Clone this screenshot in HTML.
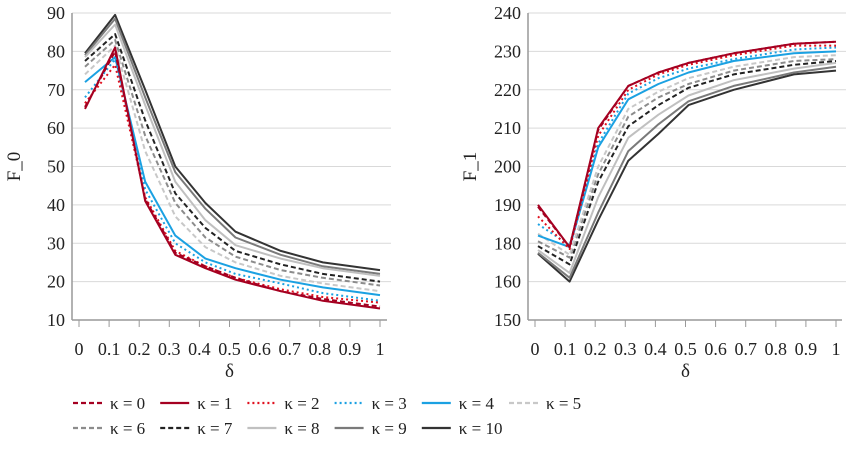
<!DOCTYPE html>
<html><head><meta charset="utf-8"><style>
body{margin:0;background:#fff;width:850px;height:449px;overflow:hidden}
svg text{font-family:"Liberation Serif",serif;fill:#222}
</style></head><body>
<svg id="chart" width="850" height="449" viewBox="0 0 850 449"></svg>
<script>
const xTickLabels=["0","0.1","0.2","0.3","0.4","0.5","0.6","0.7","0.8","0.9","1"];
const seriesNames=["κ = 0","κ = 1","κ = 2","κ = 3","κ = 4","κ = 5","κ = 6","κ = 7","κ = 8","κ = 9","κ = 10"];
const leftX=[0.02,0.12,0.22,0.32,0.42,0.52,0.67,0.81,1];
const leftK0=[65.5,80,41.5,27.5,24,21,17.5,15.5,13.5];
const leftK1=[65,81,41,27,23.5,20.5,17.5,15,13];
const leftK2=[66.5,76.5,42,28,24,21,18,16,14.5];
const leftK3=[68,78,44,30,25,22,19.5,17,15];
const leftK4=[72,78.5,46,32,26,23.5,20.5,18.5,16.5];
const leftK5=[74,81.5,54,37,29,25,21.5,19.5,17.5];
const leftK6=[76,83,58,40.5,31.5,26.5,23,21,19];
const leftK7=[77.5,84.5,62,43,34,28,24.5,22,20];
const leftK8=[78.5,87,66,46,36,29.5,26,23.5,21.5];
const leftK9=[79,88.5,68,48.5,39,31.5,27,24,22];
const leftK10=[79.5,89.5,70,50,40.5,33,28,25,23];
const leftYTicks=[10,20,30,40,50,60,70,80,90];
const rightX=[0.01,0.115,0.21,0.31,0.41,0.51,0.66,0.86,1];
const rightK0=[189.5,178,209.5,221,224.5,227,229.5,232,232.5];
const rightK1=[190,178,210,221,224.5,227,229.5,232,232.5];
const rightK2=[187,177,208,220,224,226.5,229,231.5,231.5];
const rightK3=[185,179,206,219,223,225.5,228,230.5,231];
const rightK4=[182,178,205,217.5,221.5,224.5,227.5,229.5,230];
const rightK5=[182.5,174,200,215,219.5,223,226,228.5,229];
const rightK6=[180.5,172.5,198,213,218,221.5,225,227.5,228];
const rightK7=[178.5,169,196,210.5,216,220.5,224,226.5,227.5];
const rightK8=[176.5,164.5,192,207.5,213.5,218.5,222.5,225.5,227];
const rightK9=[175,162,188,204,211,217,221,224.5,226];
const rightK10=[174.5,160,186,201.5,208.5,216,220,224,225];
const rightYTicks=[150,160,180,190,200,210,220,230,240];
const rightYTickLabels=["150","160","180","190","200","210","220","230","240"];
const leftSeries=[leftK0,leftK1,leftK2,leftK3,leftK4,leftK5,leftK6,leftK7,leftK8,leftK9,leftK10];
const rightSeries=[rightK0,rightK1,rightK2,rightK3,rightK4,rightK5,rightK6,rightK7,rightK8,rightK9,rightK10];
const styles=[
 {c:"#a50021",d:"5,3",w:2},{c:"#a50021",d:"",w:2},{c:"#e0101e",d:"2,3",w:2},{c:"#1ba1e2",d:"2,3",w:2},
 {c:"#1ba1e2",d:"",w:2},{c:"#c8c8c8",d:"5,3",w:2},{c:"#8c8c8c",d:"5,3",w:2},{c:"#222",d:"5,3",w:2},
 {c:"#c0c0c0",d:"",w:2},{c:"#7a7a7a",d:"",w:2},{c:"#333",d:"",w:2}];
const NS="http://www.w3.org/2000/svg";
const svg=document.getElementById('chart');
function mk(tag,attrs,parent){const e=document.createElementNS(NS,tag);for(const k in attrs)e.setAttribute(k,attrs[k]);(parent||svg).appendChild(e);return e;}
function drawPanel(p){
 const g=mk('g',{});
 
 
 const n=p.yTicks.length;
 const yPos=v=>{for(let i=0;i<n-1;i++){const a=p.yTicks[i],b=p.yTicks[i+1];if(v<=b||i===n-2){const t=(v-a)/(b-a);return p.bottom-(i+t)*(p.bottom-p.top)/(n-1);}}};
 const xPos=v=>p.x0+v*(p.x1-p.x0);
 p.yTicks.forEach((v,i)=>{
  const y=yPos(v);
  if(i>0){const gl=mk('line',{x1:p.axisX,x2:p.right,y1:y,y2:y,stroke:'#d9d9d9','stroke-width':1},g);
   
   }
  const t=mk('text',{x:p.axisX-7,y:y+6,'text-anchor':'end','font-size':18},g);
  t.textContent=p.yLabels[i];
  
  
 });
 const ax=mk('line',{x1:p.axisX,x2:p.axisX,y1:p.top,y2:p.bottom,stroke:'#999','stroke-width':1.5},g);
 
 
 const bx=mk('line',{x1:p.axisX,x2:p.right-4,y1:p.bottom,y2:p.bottom,stroke:'#999','stroke-width':1.5},g);
 
 
 xTickLabels.forEach((l,i)=>{
  const x=xPos(i/10);
  mk('line',{x1:x,x2:x,y1:p.bottom,y2:p.bottom+7,stroke:'#999','stroke-width':1},g);
  const t=mk('text',{x:x,y:p.bottom+35,'text-anchor':'middle','font-size':18},g);
  t.textContent=l;
  
  
 });
 const xt=mk('text',{x:(p.x0+p.x1)/2,y:p.bottom+57,'text-anchor':'middle','font-size':19},g);
 xt.textContent='δ';
 
 
 const yt=mk('text',{x:0,y:0,'text-anchor':'middle','font-size':19,transform:`translate(${p.axisX-52},${(p.top+p.bottom)/2}) rotate(-90)`},g);
 yt.textContent=p.yTitle;
 
 
 for(let s=p.series.length-1;s>=0;s--){
  const st=styles[s];
  const pts=p.series[s].map((v,i)=>xPos(p.xs[i]).toFixed(1)+','+yPos(v).toFixed(1)).join(' ');
  const pl=mk('polyline',{points:pts,fill:'none',stroke:st.c,'stroke-width':st.w,'stroke-dasharray':st.d,'stroke-linejoin':'round'},g);
  
  
 }
}
drawPanel({name:'left-chart-f0',axisX:72,right:391,top:13,bottom:320,x0:79,x1:380,yTicks:leftYTicks,yLabels:leftYTicks.map(String),xs:leftX,series:leftSeries,yTitle:'F_0'});
drawPanel({name:'right-chart-f1',axisX:528,right:846,top:13,bottom:320,x0:535,x1:836,yTicks:rightYTicks,yLabels:rightYTickLabels,xs:rightX,series:rightSeries,yTitle:'F_1'});
seriesNames.forEach((nm,i)=>{
 const row=i<6?0:1,col=i<6?i:i-6;
 const x=73+col*87.2,y=row?428:403;
 const g=mk('g',{});
 
 
 const st=styles[i];
 mk('line',{x1:x,x2:x+29,y1:y,y2:y,stroke:st.c,'stroke-width':2.2,'stroke-dasharray':st.d},g);
 const t=mk('text',{x:x+37,y:y+6,'font-size':17},g);
 t.textContent=nm;
});
</script>
</body></html>
